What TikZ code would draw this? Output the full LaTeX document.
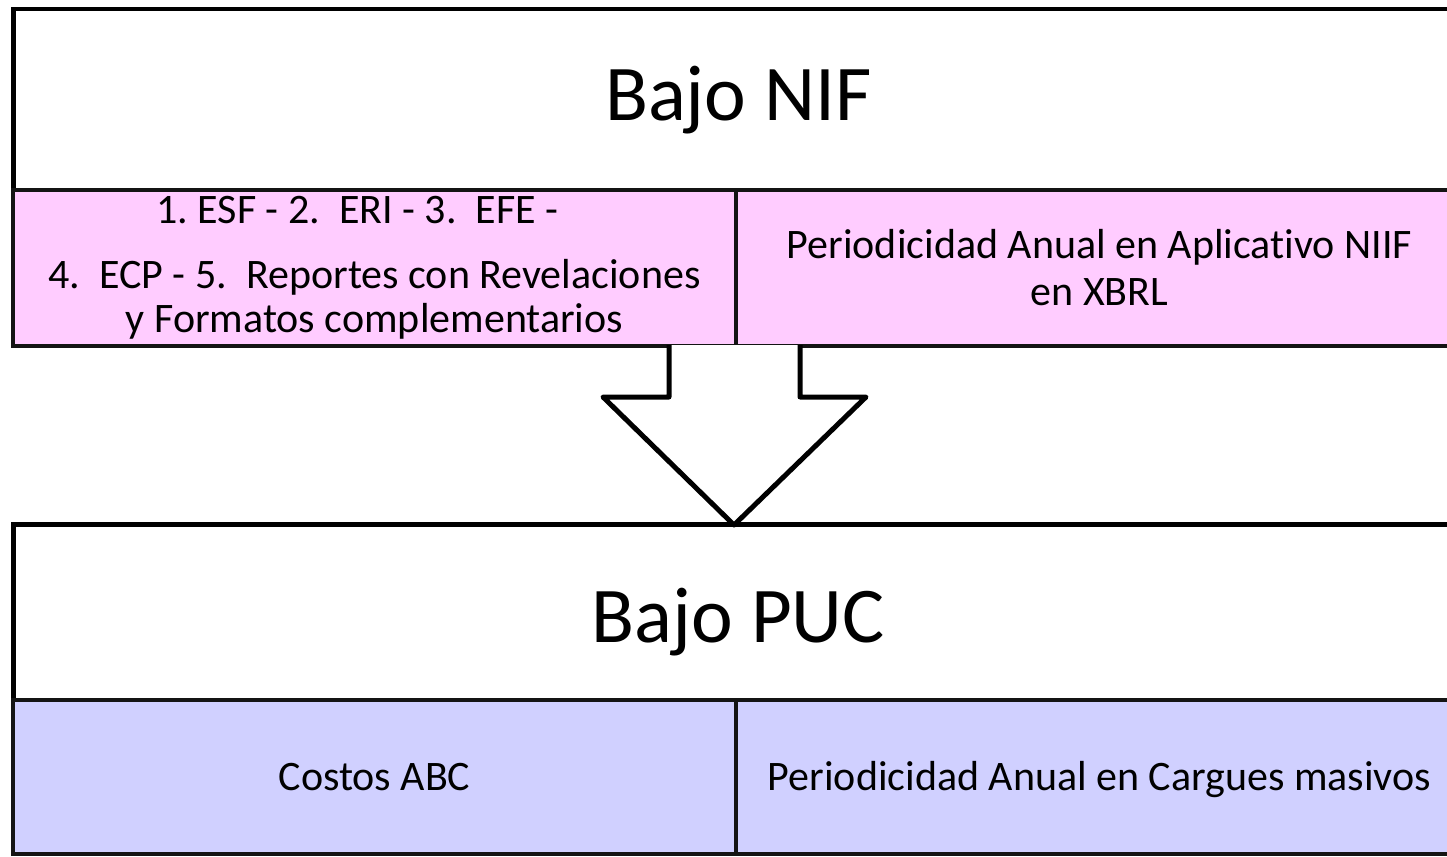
\documentclass[tikz,border=0pt]{standalone}
\usepackage{fontspec}
\setmainfont{Carlito}[Ligatures=NoCommon]
\definecolor{nifpink}{RGB}{255,204,255}
\definecolor{pucblue}{RGB}{208,208,255}
\definecolor{edge}{RGB}{20,20,20}
\newcommand\fixsp{\spaceskip=9.5pt\relax}
\begin{document}
\frenchspacing
\begin{tikzpicture}[x=1pt,y=-1pt,
  titlebox/.style={draw=black,line width=4.5pt,fill=white,anchor=north west,inner sep=0pt,
    minimum width=1450pt,minimum height=#1,font=\fontsize{79}{92}\selectfont},
  cellbox/.style={draw=edge,line width=4pt,anchor=north west,inner sep=0pt,
    minimum height=#1,align=center},
  celltext/.style={font=\fontsize{42}{#1}\selectfont}
]
\useasboundingbox (0,0) rectangle (1447,856);
% top block
\node[titlebox=181pt] (niftitle) at (11,7) {Bajo NIF};
\node[cellbox=156pt,celltext=44pt,fill=nifpink,minimum width=723pt,text width=715pt] (nifa) at (11,188)
  {\fixsp 1. ESF - 2.\ \ ERI - 3.\ \ EFE -\rule{34pt}{0pt}\\[21pt]4.\ \ ECP - 5.\ \ Reportes con Revelaciones\\y Formatos complementarios};
\node[cellbox=156pt,celltext=47pt,fill=nifpink,minimum width=727pt,text width=720pt] (nifb) at (734,188)
  {\fixsp Periodicidad Anual en Aplicativo NIIF\\en XBRL};
% bottom block
\node[titlebox=176pt,text depth=0pt] (puctitle) at (11,522) {\raisebox{-6pt}{Bajo PUC}};
\node[cellbox=154pt,celltext=47pt,fill=pucblue,minimum width=723pt,text width=715pt,
  text height=27pt,text depth=0pt] (puca) at (11,698)
  {\fixsp Costos ABC};
\node[cellbox=154pt,celltext=47pt,fill=pucblue,minimum width=727pt,text width=720pt,
  text height=27pt,text depth=0pt] (pucb) at (734,698)
  {\fixsp Periodicidad Anual en Cargues masivos};
% block arrow
\coordinate (sl) at (669,345);
\coordinate (sr) at (800,345);
\coordinate (tip) at (734,525);
\draw[draw=black,line width=5pt,fill=white,line join=round]
  (sl) -- (669,397) -- (603,397) -- (tip) -- (866,397) -- (800,397) -- (sr);
\end{tikzpicture}
\end{document}
